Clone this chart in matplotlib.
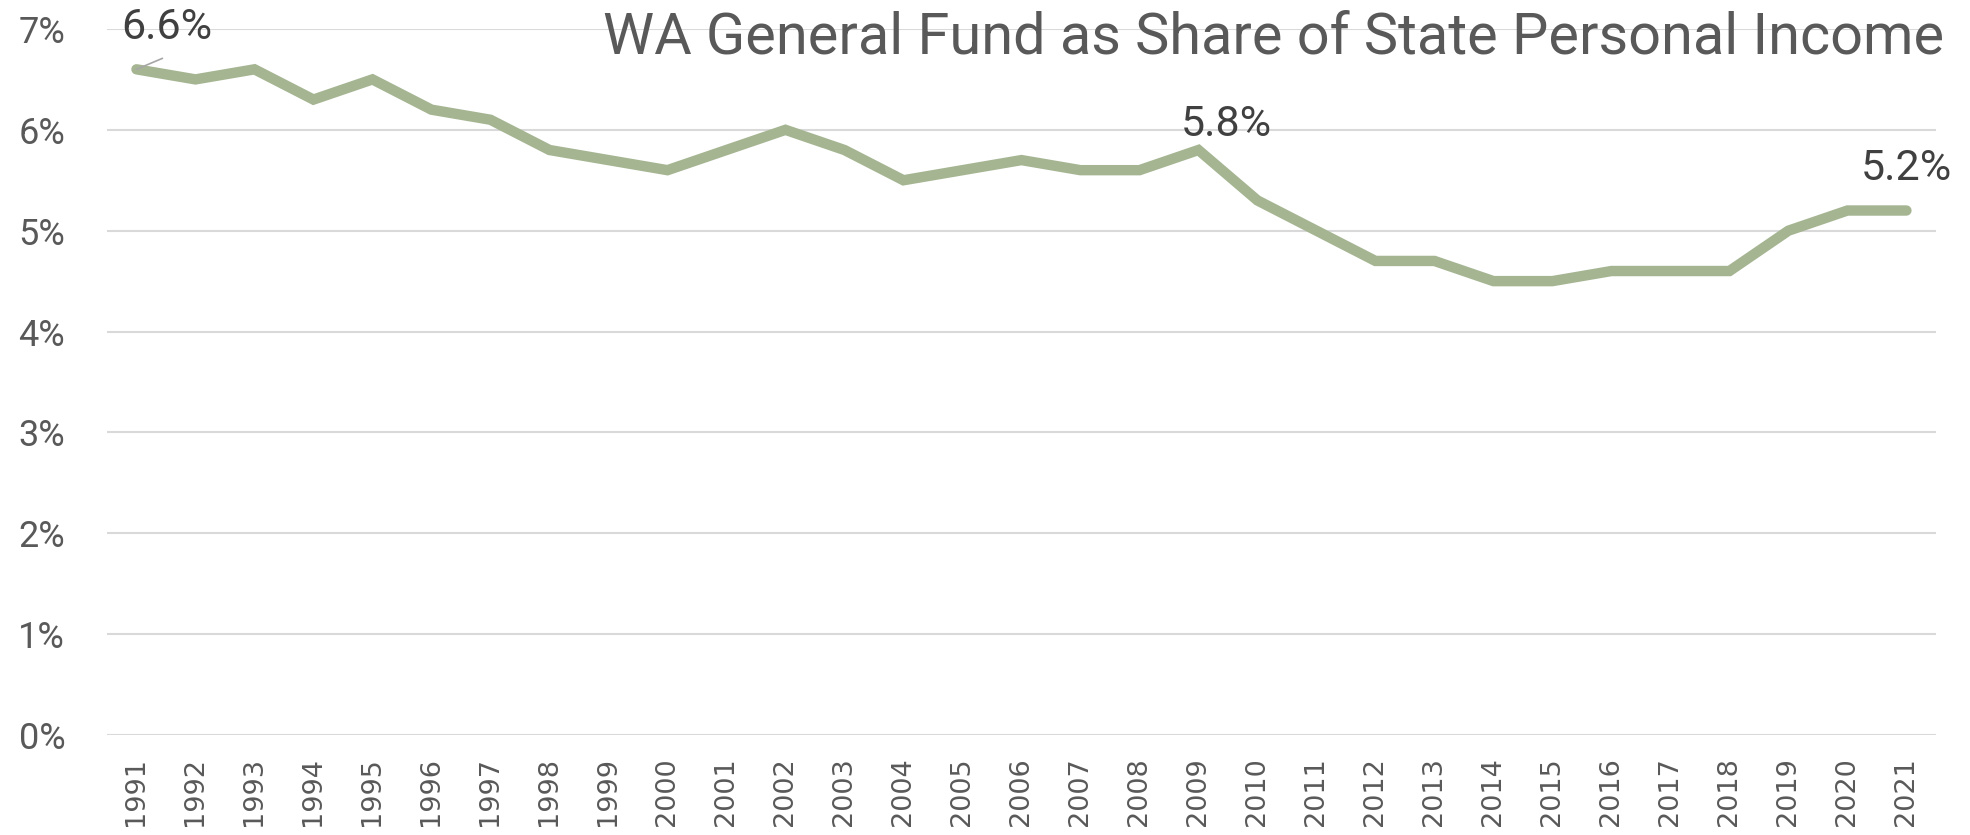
import matplotlib
matplotlib.use("Agg")
import matplotlib.pyplot as plt
from matplotlib.ticker import FuncFormatter

years = [str(y) for y in range(1991, 2022)]
share = [6.6, 6.5, 6.6, 6.3, 6.5, 6.2, 6.1, 5.8, 5.7, 5.6, 5.8, 6.0, 5.8, 5.5, 5.6,
         5.7, 5.6, 5.6, 5.8, 5.3, 5.0, 4.7, 4.7, 4.5, 4.5, 4.6, 4.6, 4.6, 5.0, 5.2, 5.2]
title = "WA General Fund as Share of State Personal Income"
labelled = {"1991": "6.6%", "2009": "5.8%", "2021": "5.2%"}

narrow = ['Roboto', 'DejaVu Sans']
grey = '#595959'

fig = plt.figure(figsize=(19.70, 8.35), dpi=100)
ax = fig.add_axes([0.0543, 0.1198, 0.9284, 0.8455])
x = list(range(len(years)))
ax.plot(x, share, color='#A5B592', lw=7.5, solid_capstyle='round', solid_joinstyle='miter', zorder=3)
ax.set_xlim(-0.5, len(years) - 0.5)
ax.set_ylim(0, 7)
ax.set_yticks(range(0, 8))
ax.yaxis.set_major_formatter(FuncFormatter(lambda v, p: f"{int(v)}%"))
ax.set_xticks(x)
ax.set_xticklabels(years, rotation=90, fontsize=19.5, color=grey, family='DejaVu Sans')
for t in ax.get_yticklabels():
    t.set_family(narrow)
    t.set_fontsize(26)
    t.set_color(grey)
ax.tick_params(axis='y', length=0, pad=30)
ax.tick_params(axis='x', length=0, pad=16)
ax.grid(axis='y', color='#D9D9D9', lw=1.5, zorder=0)
for s in ax.spines.values():
    s.set_visible(False)

offsets = {"1991": (30, 42), "2009": (28, 26), "2021": (0, 42)}
for yr, txt in labelled.items():
    i = years.index(yr)
    ax.annotate(txt, xy=(i, share[i]), xytext=offsets[yr], textcoords='offset pixels',
                ha='center', va='center', fontsize=31, color='#404040', family=narrow)
i0 = years.index("1991")
ax.annotate("", xy=(i0, share[i0]), xytext=(26, 11), textcoords='offset pixels',
            arrowprops=dict(arrowstyle='-', color='#A6A6A6', lw=1.2, shrinkA=0, shrinkB=0))

tt = fig.text(0.987, 0.955, title, ha='right', va='center', fontsize=40, color=grey,
              family=['Roboto', 'DejaVu Sans'], fontweight='normal')
fig.canvas.draw()
w = tt.get_window_extent(fig.canvas.get_renderer()).width
tt.set_fontsize(40 * 1339.0 / w)

fig.savefig("out.png", dpi=100)
